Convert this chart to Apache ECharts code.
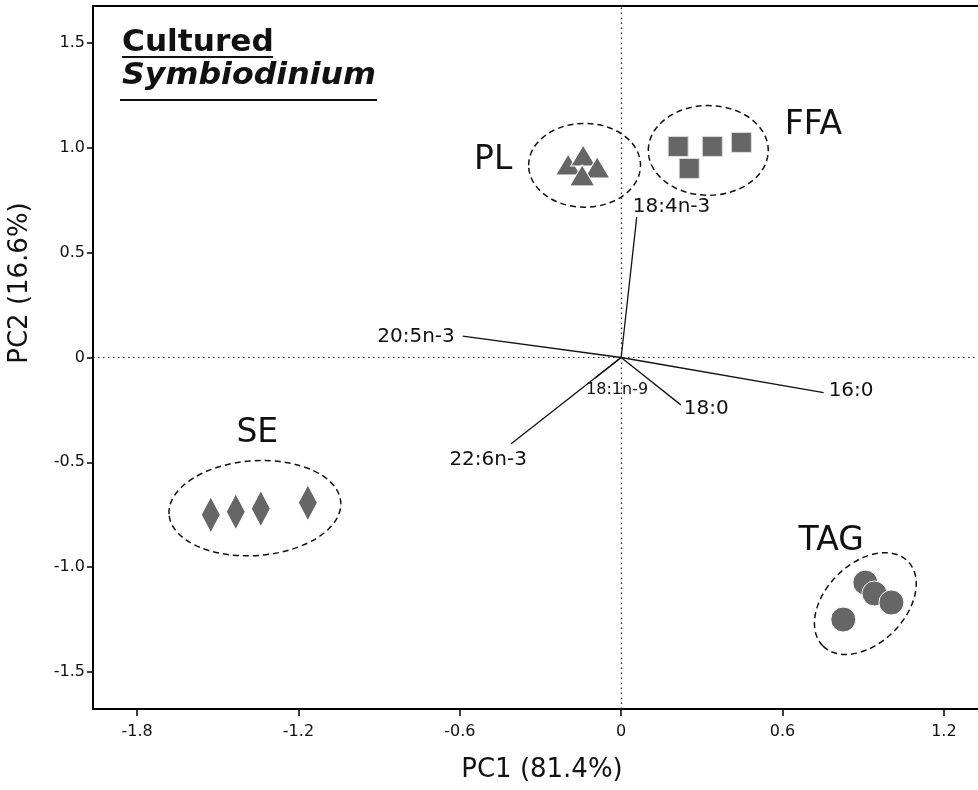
<!DOCTYPE html>
<html>
<head>
<meta charset="utf-8">
<script src="https://cdn.jsdelivr.net/npm/echarts@6/dist/echarts.min.js"></script>
<style>
  html, body { margin: 0; padding: 0; background: #fff; }
  #chart { width: 978px; height: 790px; }
</style>
</head>
<body>
<div id="chart"></div>
<script>
// PCA scores for each lipid class: [PC1, PC2]
const plScores  = [[-0.197, 0.921], [-0.141, 0.964], [-0.089, 0.907], [-0.145, 0.869]];
const ffaScores = [[0.212, 1.007], [0.339, 1.007], [0.447, 1.026], [0.253, 0.902]];
const seScores  = [[-1.526, -0.750], [-1.433, -0.736], [-1.340, -0.721], [-1.165, -0.693]];
const tagScores = [[0.908, -1.074], [0.942, -1.126], [1.005, -1.169], [0.826, -1.250]];

// Fatty acid loading vectors (end points, same axes)
const loadingNames = ['18:4n-3', '20:5n-3', '16:0', '18:0', '22:6n-3', '18:1n-9'];
const loadingX = [0.058, -0.589, 0.753, 0.222, -0.409, -0.097];
const loadingY = [0.670, 0.102, -0.168, -0.226, -0.412, -0.098];

// Group outlines: centre, radii (axis units), tilt (degrees) and label anchor
const groupNames  = ['PL', 'FFA', 'SE', 'TAG'];
const groupCx     = [-0.136, 0.324, -1.362, 0.908];
const groupCy     = [0.917, 0.988, -0.719, -1.174];
const groupRx     = [0.208, 0.223, 0.320, 0.223];
const groupRy     = [0.200, 0.214, 0.226, 0.190];
const groupTilt   = [0, 0, 4, 45];
const groupLabelX = [-0.476, 0.715, -1.353, 0.781];
const groupLabelY = [0.940, 1.107, -0.364, -0.877];

// Axis ticks
const xTickValues = [-1.8, -1.2, -0.6, 0, 0.6, 1.2];
const xTickLabels = ['-1.8', '-1.2', '-0.6', '0', '0.6', '1.2'];
const yTickValues = [-1.5, -1.0, -0.5, 0, 0.5, 1.0, 1.5];
const yTickLabels = ['-1.5', '-1.0', '-0.5', '0', '0.5', '1.0', '1.5'];

// Label placement for loading vectors (pixel offsets from the vector tip)
const loadingLabelStyle = {
  '18:4n-3': { align: 'left',   dx: -4, dy: -10, size: 20 },
  '20:5n-3': { align: 'right',  dx: -8, dy: 1,   size: 20 },
  '16:0':    { align: 'left',   dx: 5,  dy: -2,  size: 20 },
  '18:0':    { align: 'left',   dx: 3,  dy: 4,   size: 20 },
  '22:6n-3': { align: 'center', dx: -23, dy: 16, size: 20 },
  '18:1n-9': { align: 'center', dx: 22, dy: 12,  size: 16 }
};

const FONT = '"DejaVu Sans", "Liberation Sans", sans-serif';
const MARK = '#666666';
const X_MIN = -1.964, X_MAX = 1.327;
const Y_MIN = -1.677, Y_MAX = 1.677;

function labelFor(values, labels) {
  return function (v) {
    for (let i = 0; i < values.length; i++) {
      if (Math.abs(values[i] - v) < 1e-9) return labels[i];
    }
    return '';
  };
}

const chart = echarts.init(document.getElementById('chart'), null, { renderer: 'canvas' });

function markerSeries(name, symbol, size, data, border) {
  return {
    type: 'scatter', name: name, symbol: symbol, symbolSize: size, data: data,
    itemStyle: { color: MARK, borderColor: border, borderWidth: 1, opacity: 1 },
    emphasis: { disabled: true },
    z: 5
  };
}

const option = {
  animation: false,
  backgroundColor: '#ffffff',
  grid: { left: 93, top: 6, right: 0, height: 703, show: false },
  xAxis: [
    {
      type: 'value', min: X_MIN, max: X_MAX, position: 'bottom',
      axisLine: { show: true, onZero: false, lineStyle: { color: '#000', width: 2 } },
      axisTick: { show: true, customValues: xTickValues, length: 7, lineStyle: { color: '#000', width: 1.5 } },
      axisLabel: {
        customValues: xTickValues, formatter: labelFor(xTickValues, xTickLabels),
        color: '#111', fontSize: 16, fontFamily: FONT, margin: 15
      },
      splitLine: { show: false }
    },
    {
      // top frame edge
      type: 'value', min: X_MIN, max: X_MAX, position: 'top',
      axisLine: { show: true, onZero: false, lineStyle: { color: '#000', width: 2 } },
      axisTick: { show: false }, axisLabel: { show: false }, splitLine: { show: false }
    }
  ],
  yAxis: {
    type: 'value', min: Y_MIN, max: Y_MAX,
    axisLine: { show: true, onZero: false, lineStyle: { color: '#000', width: 2 } },
    axisTick: { show: true, customValues: yTickValues, length: 6, lineStyle: { color: '#000', width: 1.5 } },
    axisLabel: {
      customValues: yTickValues, formatter: labelFor(yTickValues, yTickLabels),
      color: '#111', fontSize: 16, fontFamily: FONT, margin: 8
    },
    splitLine: { show: false }
  },
  graphic: [
    { type: 'text', x: 122, y: 43, scaleX: 1.04, style: { text: 'Cultured', x: 0, y: 0, font: 'bold 30px "DejaVu Sans"', fill: '#111', verticalAlign: 'middle', textVerticalAlign: 'middle' } },
    { type: 'line', shape: { x1: 122, y1: 57, x2: 273, y2: 57 }, style: { stroke: '#111', lineWidth: 2 } },
    { type: 'text', x: 122, y: 76, scaleX: 1.055, style: { text: 'Symbiodinium', x: 0, y: 0, font: 'italic bold 30px "DejaVu Sans"', fill: '#111', verticalAlign: 'middle', textVerticalAlign: 'middle' } },
    { type: 'line', shape: { x1: 120, y1: 100, x2: 377, y2: 100 }, style: { stroke: '#111', lineWidth: 2 } },
    { type: 'text', x: 542, y: 770, style: { text: 'PC1 (81.4%)', x: 0, y: 0, font: '26px ' + FONT, fill: '#111', align: 'center', textAlign: 'center', verticalAlign: 'middle', textVerticalAlign: 'middle' } },
    { type: 'text', rotation: Math.PI / 2, x: 20, y: 283, style: { text: 'PC2 (16.6%)', x: 0, y: 0, font: '26px ' + FONT, fill: '#111', align: 'center', textAlign: 'center', verticalAlign: 'middle', textVerticalAlign: 'middle' } }
  ],
  series: [
    {
      // zero reference lines
      type: 'scatter', data: [], silent: true,
      markLine: {
        silent: true, symbol: ['none', 'none'], animation: false,
        label: { show: false },
        lineStyle: { color: '#222', width: 1.2, type: [1.5, 3.5], opacity: 1 },
        data: [{ xAxis: 0 }, { yAxis: 0 }]
      }
    },
    {
      // dashed group outlines
      type: 'custom', silent: true, z: 3,
      data: groupNames.map((n, i) => [groupCx[i], groupCy[i], groupRx[i], groupRy[i], groupTilt[i]]),
      renderItem: function (params, api) {
        const c = api.coord([api.value(0), api.value(1)]);
        const s = api.size([api.value(2), api.value(3)]);
        return {
          type: 'ellipse',
          x: c[0], y: c[1],
          rotation: api.value(4) * Math.PI / 180,
          shape: { cx: 0, cy: 0, rx: s[0], ry: s[1] },
          style: { fill: 'none', stroke: '#111', lineWidth: 1.5, lineDash: [6, 4] }
        };
      }
    },
    {
      // group names
      type: 'scatter', silent: true, z: 6,
      symbolSize: 1, itemStyle: { color: 'rgba(0,0,0,0)', opacity: 1 },
      data: groupNames.map((n, i) => ({ name: n, value: [groupLabelX[i], groupLabelY[i]] })),
      label: {
        show: true, position: 'inside', formatter: '{b}',
        fontSize: 33, fontFamily: FONT, color: '#111'
      }
    },
    {
      // loading vectors
      type: 'custom', silent: true, z: 4,
      data: loadingNames.map((n, i) => [loadingX[i], loadingY[i]]),
      renderItem: function (params, api) {
        const o = api.coord([0, 0]);
        const e = api.coord([api.value(0), api.value(1)]);
        const name = loadingNames[params.dataIndex];
        const st = loadingLabelStyle[name];
        return {
          type: 'group',
          children: [
            { type: 'line', shape: { x1: o[0], y1: o[1], x2: e[0], y2: e[1] }, style: { stroke: '#111', lineWidth: 1.3 } },
            {
              type: 'text',
              style: {
                text: name, x: e[0] + st.dx, y: e[1] + st.dy,
                align: st.align, textAlign: st.align, verticalAlign: 'middle', textVerticalAlign: 'middle',
                font: st.size + 'px ' + FONT, fill: '#111'
              }
            }
          ]
        };
      }
    },
    markerSeries('PL', 'triangle', [25, 21], plScores, '#ffffff'),
    markerSeries('FFA', 'rect', 20, ffaScores, '#dddddd'),
    markerSeries('SE', 'diamond', [19, 36], seScores, '#ffffff'),
    markerSeries('TAG', 'circle', 25, tagScores, '#ffffff')
  ]
};

chart.setOption(option);
</script>
</body>
</html>
